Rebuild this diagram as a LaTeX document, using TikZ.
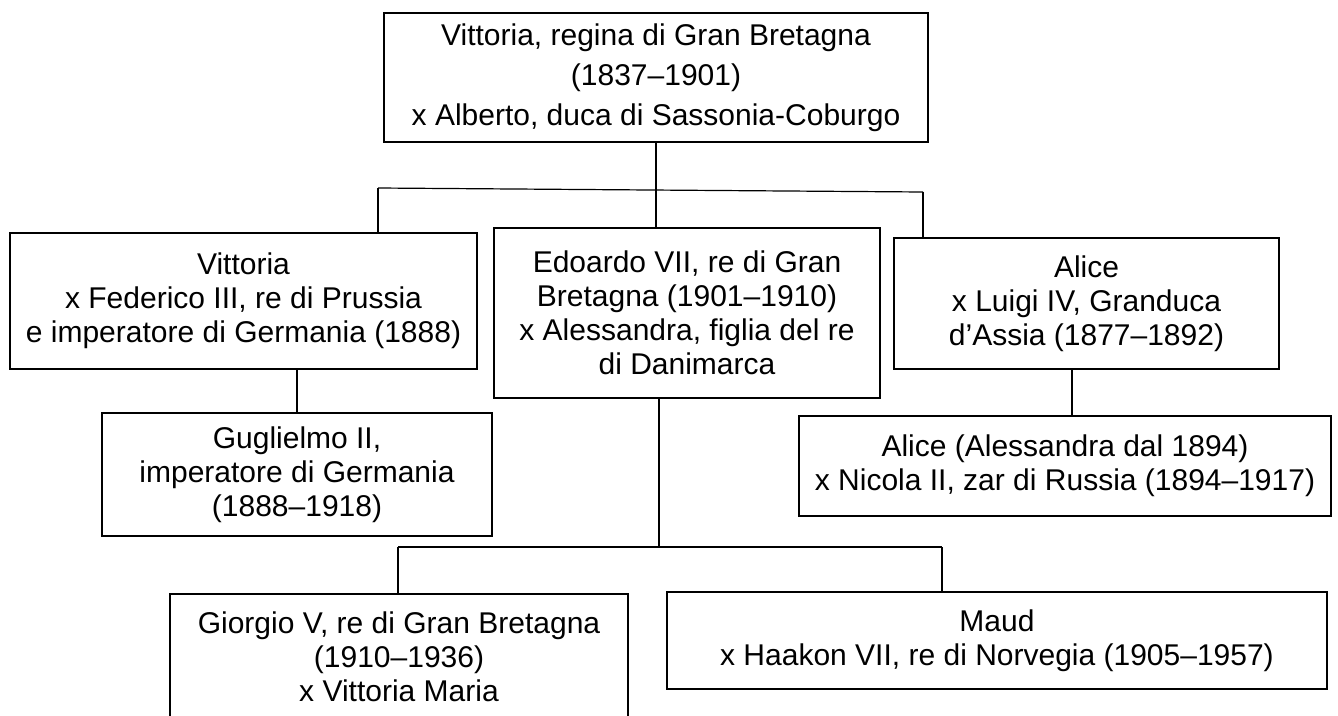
\documentclass[tikz,border=0pt]{standalone}
\usepackage{fontspec}
\setmainfont{Liberation Sans}
\usetikzlibrary{positioning}

\begin{document}
\begin{tikzpicture}[x=1pt,y=-1pt,
  font=\fontsize{30}{34}\selectfont,
  box/.style={draw,line width=1.6pt,align=center,inner sep=0pt},
  ln/.style={line width=1.2pt}]
\useasboundingbox (0,0) rectangle (1338,715);

% queen and children
\node[box,minimum width=544pt,minimum height=129pt,font=\fontsize{30}{40}\selectfont] (vq) at (656,77.5)
  {Vittoria, regina di Gran Bretagna\\(1837–1901)\\x Alberto, duca di Sassonia-Coburgo};
\node[box,minimum width=467pt,minimum height=136pt] (vit) at (243.5,301)
  {Vittoria\\x Federico III, re di Prussia\\e imperatore di Germania (1888)};
\node[box,minimum width=386pt,minimum height=170pt] (edo) at (687,313)
  {Edoardo VII, re di Gran\\Bretagna (1901–1910)\\x Alessandra, figlia del re\\di Danimarca};
\node[box,minimum width=385pt,minimum height=131pt] (ali) at (1086.5,303.5)
  {Alice\\x Luigi IV, Granduca\\d’Assia (1877–1892)};

% grandchildren
\node[box,minimum width=390pt,minimum height=123pt] (gug) at (297,474.5)
  {Guglielmo II,\\imperatore di Germania\\(1888–1918)};
\node[box,minimum width=532pt,minimum height=100pt] (ale) at (1065,466)
  {Alice (Alessandra dal 1894)\\x Nicola II, zar di Russia (1894–1917)};
\node[box,minimum width=458pt,minimum height=125pt] (gio) at (399,656.5)
  {Giorgio V, re di Gran Bretagna\\(1910–1936)\\x Vittoria Maria};
\node[box,minimum width=660pt,minimum height=97pt] (mau) at (997,640.5)
  {Maud\\x Haakon VII, re di Norvegia (1905–1957)};

\coordinate (t1) at (378,188);
\coordinate (t2) at (656,190);
\coordinate (t3) at (923,192);
\coordinate (a1) at (1072,0);
\coordinate (e0) at (398,547);
\coordinate (e1) at (659,547);
\coordinate (e2) at (942,547);

\draw[ln] (vq.south) -- (t2);
\draw[ln] (t1) -- (t3);
\draw[ln] (t1) -- (t1 |- vit.north);
\draw[ln] (t2) -- (t2 |- edo.north);
\draw[ln] (t3) -- (t3 |- ali.north);
\draw[ln] (vit.south -| gug.north) -- (gug.north);
\draw[ln] (a1 |- ali.south) -- (a1 |- ale.north);
\draw[ln] (e1 |- edo.south) -- (e1);
\draw[ln] (e0) -- (e2);
\draw[ln] (e0) -- (e0 |- gio.north);
\draw[ln] (e2) -- (e2 |- mau.north);
\end{tikzpicture}
\end{document}
